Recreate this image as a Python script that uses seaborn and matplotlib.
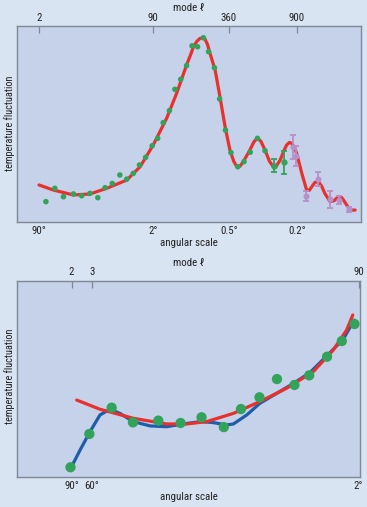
import matplotlib
matplotlib.use('Agg')
import matplotlib.pyplot as plt
import seaborn as sns

sns.set_style('white')
plt.rcParams['font.family'] = ['Roboto Condensed', 'DejaVu Sans']

# ---- top panel: full spectrum (x, y in axis units 0-100) ----
top_curve_x = [6.4, 10.6, 16.4, 21.2, 26.1, 31.9, 35.8, 39.6, 43.5, 46.4, 49.3, 50.5, 51.3,
               52.3, 53.2, 54.0, 54.7, 55.4, 56.1, 57.6, 59.0, 60.5, 61.9, 63.0, 63.9, 64.8,
               65.8, 67.7, 68.9, 69.9, 70.9, 72.1, 73.4, 74.5, 75.4, 76.5, 77.5, 78.4, 79.2,
               79.9, 80.6, 81.3, 82.8, 84.2, 85.0, 85.7, 86.6, 87.6, 88.6, 89.5, 91.0, 92.2,
               93.4, 94.2, 94.9, 96.8, 98.3]
top_curve_y = [18.9, 16.3, 13.8, 14.3, 17.2, 21.4, 28.2, 39.3, 52.9, 65.6, 80.1, 85.5, 89.4,
               92.2, 93.7, 94.0, 93.2, 90.5, 86.1, 77.6, 63.9, 48.6, 36.7, 31.0, 28.2, 28.4,
               30.8, 36.7, 41.0, 42.7, 41.2, 36.7, 31.0, 28.2, 28.6, 31.6, 36.0, 39.3, 40.6,
               40.1, 38.2, 35.0, 24.8, 16.3, 16.2, 18.0, 20.2, 20.6, 18.2, 14.6, 10.4, 10.9,
               12.9, 12.9, 11.2, 6.1, 6.1]

top_dots_x = [8.4, 11.0, 13.5, 16.4, 18.8, 21.2, 23.5, 25.6, 27.7, 29.9, 31.9, 33.8, 35.6,
              37.4, 39.3, 40.9, 42.5, 44.3, 45.9, 47.6, 49.3, 50.9, 52.5, 54.2, 55.7, 57.4,
              58.9, 60.6, 62.2, 64.2, 66.0, 67.8, 69.9, 72.1]
top_dots_y = [10.4, 17.2, 12.9, 14.3, 13.4, 14.6, 12.4, 17.5, 19.7, 24.0, 21.9, 24.8, 29.1,
              33.0, 38.9, 42.7, 50.7, 56.8, 67.7, 72.8, 79.8, 89.9, 89.4, 94.0, 86.9, 78.7,
              62.8, 46.9, 35.4, 28.2, 30.8, 35.6, 42.7, 36.4]

green_err_x = [74.7, 77.6]
green_err_y = [28.7, 30.4]
green_err = [3.4, 6.0]

purple_x = [80.1, 81.1, 84.0, 87.4, 91.0, 93.7, 96.5]
purple_y = [38.4, 33.7, 13.3, 21.9, 11.6, 11.2, 6.5]
purple_err = [6.0, 5.1, 2.6, 3.7, 4.3, 2.0, 1.4]

top_tick_pos = [6.4, 39.5, 61.6, 81.4]
top_mode_labels = ['2', '90', '360', '900']
top_angle_labels = ['90°', '2°', '0.5°', '0.2°']

# ---- bottom panel: low multipoles ----
bot_red_x = [17.4, 24.2, 33.9, 43.6, 49.5, 55.3, 63.1, 70.8, 78.6, 86.4, 92.2, 96.1, 97.9]
bot_red_y = [39.1, 34.4, 29.8, 26.9, 26.9, 28.1, 32.3, 38.3, 45.1, 53.6, 64.6, 74.8, 82.5]

bot_blue_x = [15.9, 18.4, 21.3, 24.2, 27.1, 30.0, 33.9, 38.8, 43.6, 48.5, 53.4, 57.2, 61.1,
              63.1, 67.0, 70.8, 75.7, 80.6, 85.4, 90.3, 95.1, 98.3]
bot_blue_y = [5.1, 13.6, 23.0, 31.5, 34.4, 32.3, 28.1, 25.9, 25.5, 26.9, 28.1, 27.6, 26.4,
              26.9, 31.5, 37.4, 42.5, 47.6, 53.1, 61.6, 70.1, 79.9]

bot_dots_x = [15.6, 21.1, 27.6, 33.8, 41.2, 47.7, 53.8, 60.3, 65.3, 70.7, 75.8, 80.9, 85.2,
              90.4, 94.7, 98.4]
bot_dots_y = [4.8, 21.8, 35.2, 27.7, 28.6, 27.4, 30.3, 25.3, 34.5, 40.5, 49.8, 46.8, 51.7,
              61.2, 69.2, 77.9]

bot_tick_pos = [15.9, 21.9, 99.6]
bot_mode_labels = ['2', '3', '90']
bot_angle_labels = ['90°', '60°', '2°']

FIG_BG = '#d8e4f2'
AX_BG = '#c5d2ea'
RED = '#e8312c'
BLUE = '#1c5ea8'
GREEN = '#33a35b'
PURPLE = '#b690c9'
GREY = '#808796'
TXT = '#222222'
FS = 7.8

fig = plt.figure(figsize=(3.67, 5.07), dpi=100, facecolor=FIG_BG)
ax1 = fig.add_axes([0.0463, 0.5621, 0.9373, 0.3866])
ax2 = fig.add_axes([0.0463, 0.0598, 0.9346, 0.3866])


def style_axes(ax, ticks, mode_labels, angle_labels):
    ax.set_facecolor(AX_BG)
    ax.set_xlim(0, 100)
    ax.set_ylim(0, 100)
    ax.set_yticks([])
    for s in ax.spines.values():
        s.set_color(GREY)
        s.set_linewidth(1.0)
    ax.set_xticks(ticks)
    ax.set_xticklabels(angle_labels, fontsize=FS, color=TXT)
    ax.tick_params(axis='x', direction='in', length=5, width=0.9, color=GREY, pad=3)
    sec = ax.secondary_xaxis('top')
    sec.set_xticks(ticks)
    sec.set_xticklabels(mode_labels, fontsize=FS, color=TXT)
    sec.tick_params(axis='x', direction='in', length=5, width=0.9, color=GREY, pad=2.5)
    sec.spines['top'].set_visible(False)
    sec.set_xlabel('mode ℓ', fontsize=FS, labelpad=1, color=TXT)
    ax.set_xlabel('angular scale', fontsize=FS, labelpad=1, color=TXT)
    ax.set_ylabel('')


style_axes(ax1, top_tick_pos, top_mode_labels, top_angle_labels)
style_axes(ax2, bot_tick_pos, bot_mode_labels, bot_angle_labels)

# top panel
sns.lineplot(x=top_curve_x, y=top_curve_y, sort=False, color=RED, linewidth=2.3,
             ax=ax1, zorder=2)
sns.scatterplot(x=top_dots_x, y=top_dots_y, color=GREEN, s=16, edgecolor='none',
                ax=ax1, zorder=3)
ax1.errorbar(green_err_x, green_err_y, yerr=green_err, fmt='o', color=GREEN,
             markersize=3.5, elinewidth=1.3, capsize=2.2, capthick=1.3, zorder=3)
ax1.errorbar(purple_x, purple_y, yerr=purple_err, fmt='o', color=PURPLE,
             markersize=3.3, elinewidth=1.3, capsize=2.2, capthick=1.3, zorder=3)
ax1.set_xlim(0, 100)
ax1.set_ylim(0, 100)

# bottom panel
sns.lineplot(x=bot_blue_x, y=bot_blue_y, sort=False, color=BLUE, linewidth=2.3,
             ax=ax2, zorder=2)
sns.lineplot(x=bot_red_x, y=bot_red_y, sort=False, color=RED, linewidth=2.3,
             ax=ax2, zorder=2)
sns.scatterplot(x=bot_dots_x, y=bot_dots_y, color=GREEN, s=55, edgecolor='none',
                ax=ax2, zorder=3)
ax2.set_xlim(0, 100)
ax2.set_ylim(0, 100)

fig.text(0.025, 0.757, 'temperature fluctuation', rotation=90, fontsize=7.4,
         ha='center', va='center', color=TXT)
fig.text(0.025, 0.257, 'temperature fluctuation', rotation=90, fontsize=7.4,
         ha='center', va='center', color=TXT)

fig.savefig('out.png', dpi=100, facecolor=FIG_BG)
